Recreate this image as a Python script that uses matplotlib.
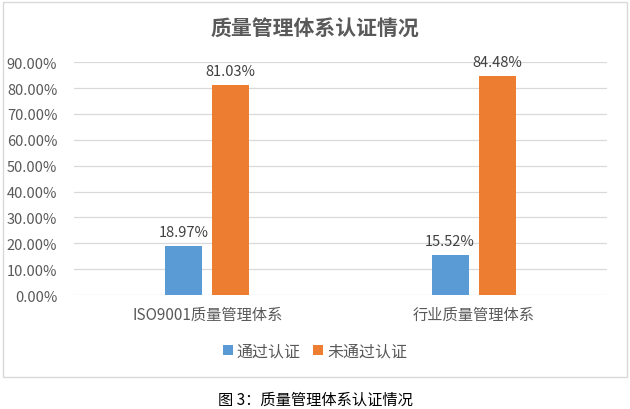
"""Bar chart: ISO9001 / industry quality management system certification shares."""
import matplotlib
matplotlib.use("Agg")
import matplotlib.pyplot as plt
from matplotlib.patches import Rectangle
from matplotlib.ticker import PercentFormatter
import numpy as np

plt.rcParams["font.family"] = ["Noto Sans CJK SC", "DejaVu Sans"]

categories = ["ISO9001质量管理体系", "行业质量管理体系"]
series_names = ["通过认证", "未通过认证"]
passed = [0.1897, 0.1552]
failed = [0.8103, 0.8448]
y_ticks = [0.0, 0.1, 0.2, 0.3, 0.4, 0.5, 0.6, 0.7, 0.8, 0.9]
title = "质量管理体系认证情况"
caption = "图 3：质量管理体系认证情况"

BLUE = "#5B9BD5"
ORANGE = "#ED7D31"
TEXT = "#595959"
GRID = "#D9D9D9"

fig = plt.figure(figsize=(6.3, 4.1), dpi=100)
ax = fig.add_axes([0.1175, 0.278, 0.846, 0.568])

x = np.arange(len(categories))
w = 0.139
off = w / 2 + 0.019
b1 = ax.bar(x - off, passed, w, color=BLUE, label=series_names[0], zorder=3)
b2 = ax.bar(x + off, failed, w, color=ORANGE, label=series_names[1], zorder=3)
for bars in (b1, b2):
    for r in bars:
        ax.annotate(f"{r.get_height() * 100:.2f}%",
                    (r.get_x() + r.get_width() / 2, r.get_height()),
                    xytext=(0, 5), textcoords="offset points",
                    ha="center", va="bottom", fontsize=10.5, color="#404040")

ax.set_xlim(-0.5, len(categories) - 0.5)
ax.set_ylim(0, 0.9)
ax.set_yticks(y_ticks)
ax.yaxis.set_major_formatter(PercentFormatter(1.0, decimals=2))
ax.set_xticks(x)
ax.set_xticklabels(categories)
ax.tick_params(axis="y", length=0, pad=12, labelsize=10.5, colors=TEXT)
ax.tick_params(axis="x", length=0, pad=8, labelsize=11, colors=TEXT)
ax.grid(axis="y", color=GRID, linewidth=0.9, zorder=0)
for s in ax.spines.values():
    s.set_visible(False)

fig.text(0.5, 1 - 28 / 410, title, ha="center", va="center",
         fontsize=15, fontweight="bold", color=TEXT)
ax.legend(loc="center", bbox_to_anchor=(0.5, 1 - 352 / 410),
          bbox_transform=fig.transFigure, ncol=2, frameon=False,
          fontsize=11.5, labelcolor=TEXT, handlelength=0.6, handleheight=0.6,
          handletextpad=0.25, columnspacing=0.8)

fig.patches.append(Rectangle((3 / 630, 1 - 378 / 410), 624 / 630, 375 / 410,
                             transform=fig.transFigure, fill=False,
                             edgecolor=GRID, linewidth=1))
fig.text(0.5, 1 - 400 / 410, caption, ha="center", va="center",
         fontsize=11, color="#000000")

fig.savefig("out.png", dpi=100)
